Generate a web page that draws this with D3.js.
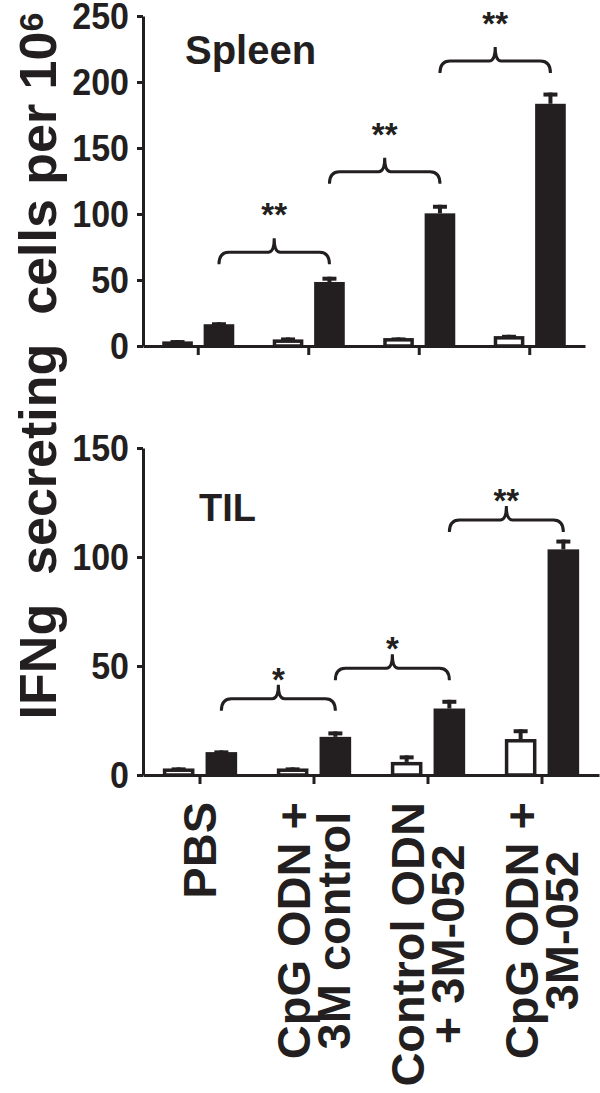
<!DOCTYPE html>
<html>
<head>
<meta charset="utf-8">
<style>
body { margin: 0; background: #fff; }
svg text { font-family: "Liberation Sans", Arial, Helvetica, sans-serif; font-weight: bold; fill: #231f20; }
</style>
</head>
<body>
<div id="chart"></div>
<script src="https://d3js.org/d3.v7.min.js"></script>
<script>
// categories and tick labels
var groups = ["PBS", "CpG ODN + 3M control", "Control ODN + 3M-052", "CpG ODN + 3M-052"];
var groupLines = [["PBS"], ["CpG ODN +", "3M control"], ["Control ODN", "+ 3M-052"], ["CpG ODN +", "3M-052"]];
var series = ["open", "filled"];

// Spleen panel
var spleenOpen = [3.5, 5, 6, 7.5];
var spleenOpenErr = [1, 1.5, 0.5, 1];
var spleenFilled = [16.5, 48.5, 100.5, 183.5];
var spleenFilledErr = [1.5, 4, 6.5, 8.5];
var spleenTicks = [0, 50, 100, 150, 200, 250];
var spleenSig = ["**", "**", "**"];
var spleenSigLevel = [71, 132, 216];

// TIL panel
var tilOpen = [3, 3, 6, 16.5];
var tilOpenErr = [0.5, 0.5, 3, 4.5];
var tilFilled = [10.5, 17.5, 30.5, 103.5];
var tilFilledErr = [0.8, 2.5, 4, 4.5];
var tilTicks = [0, 50, 100, 150];
var tilSig = ["*", "*", "**"];
var tilSigLevel = [35, 49, 117];

var ink = "#231f20";
var W = 600, H = 1093;

var svg = d3.select("#chart").append("svg")
    .attr("width", W)
    .attr("height", H);

svg.append("rect").attr("width", W).attr("height", H).attr("fill", "#fff");

var panels = [
  { name: "Spleen", open: spleenOpen, openErr: spleenOpenErr, filled: spleenFilled, filledErr: spleenFilledErr,
    ticks: spleenTicks, sig: spleenSig, sigLevel: spleenSigLevel,
    top: 16, bottom: 346, right: 585, titleX: 185, titleY: 64, titleSize: 40, starGap: 31 },
  { name: "TIL", open: tilOpen, openErr: tilOpenErr, filled: tilFilled, filledErr: tilFilledErr,
    ticks: tilTicks, sig: tilSig, sigLevel: tilSigLevel,
    top: 448, bottom: 775, right: 599, titleX: 199, titleY: 521, titleSize: 38, starGap: 13 }
];

var left = 143;

function bracePath(x0, x1, yh) {
  var xm = (x0 + x1) / 2, r = 10, rm = 6, drop = 12, tip = 14;
  return "M" + x0 + "," + (yh + drop) +
    " Q" + x0 + "," + yh + " " + (x0 + r) + "," + yh +
    " L" + (xm - rm) + "," + yh +
    " Q" + xm + "," + yh + " " + xm + "," + (yh - tip) +
    " Q" + xm + "," + yh + " " + (xm + rm) + "," + yh +
    " L" + (x1 - r) + "," + yh +
    " Q" + x1 + "," + yh + " " + x1 + "," + (yh + drop);
}

panels.forEach(function(p, pi) {
  var x0 = d3.scaleBand().domain(groups).range([left, p.right]).paddingInner(0).paddingOuter(0);
  var half = x0.step() * 0.326;
  var x1 = d3.scaleBand().domain(series).range([-half, half]).paddingInner(0.26).paddingOuter(0);
  var y = d3.scaleLinear().domain([0, d3.max(p.ticks)]).range([p.bottom, p.top]);

  var rows = [];
  groups.forEach(function(g, i) {
    rows.push({ g: g, s: "open", v: p.open[i], e: p.openErr[i] });
    rows.push({ g: g, s: "filled", v: p.filled[i], e: p.filledErr[i] });
  });

  function cx(d) { return x0(d.g) + x0.bandwidth() / 2 + x1(d.s) + x1.bandwidth() / 2; }

  var plot = svg.append("g");

  // error bars (upward only)
  var eb = plot.selectAll(".err").data(rows).enter().append("g");
  eb.append("line")
    .attr("x1", cx).attr("x2", cx)
    .attr("y1", function(d) { return y(d.v); })
    .attr("y2", function(d) { return y(d.v + d.e); })
    .attr("stroke", ink).attr("stroke-width", 4);
  eb.append("line")
    .attr("x1", function(d) { return cx(d) - 7; })
    .attr("x2", function(d) { return cx(d) + 7; })
    .attr("y1", function(d) { return y(d.v + d.e) + 2; })
    .attr("y2", function(d) { return y(d.v + d.e) + 2; })
    .attr("stroke", ink).attr("stroke-width", 4);

  // bars
  plot.selectAll(".bar").data(rows).enter().append("rect")
    .attr("x", function(d) { return x0(d.g) + x0.bandwidth() / 2 + x1(d.s) + 1.75; })
    .attr("width", x1.bandwidth() - 3.5)
    .attr("y", function(d) { return y(d.v) + 1.75; })
    .attr("height", function(d) { return Math.max(0, y(0) - y(d.v) - 1.75); })
    .attr("fill", function(d) { return d.s === "open" ? "#fff" : ink; })
    .attr("stroke", ink)
    .attr("stroke-width", 3.5);

  // axes
  var yAxis = svg.append("g")
    .attr("transform", "translate(" + left + ",0)")
    .call(d3.axisLeft(y).tickValues(p.ticks).tickSize(6).tickSizeOuter(0).tickPadding(8));
  yAxis.selectAll("text")
    .style("font-size", "34px")
    .attr("dy", "0.34em")
    .attr("transform", "scale(1,1.1)")
    .attr("fill", ink);

  svg.append("g")
    .attr("transform", "translate(0," + p.bottom + ")")
    .call(d3.axisBottom(x0).tickSize(9).tickSizeOuter(0).tickFormat(""));

  svg.selectAll(".domain, .tick line").attr("stroke", ink).attr("stroke-width", 3);

  // panel title
  svg.append("text")
    .attr("x", p.titleX).attr("y", p.titleY)
    .style("font-size", p.titleSize + "px")
    .text(p.name);

  // significance braces between consecutive filled bars
  p.sig.forEach(function(s, i) {
    var xa = cx({ g: groups[i], s: "filled" });
    var xb = cx({ g: groups[i + 1], s: "filled" });
    var yh = y(p.sigLevel[i]);
    svg.append("path")
      .attr("d", bracePath(xa, xb, yh))
      .attr("fill", "none").attr("stroke", ink).attr("stroke-width", 3);
    svg.append("text")
      .attr("x", (xa + xb) / 2)
      .attr("y", yh - 14 - p.starGap + 19)
      .attr("text-anchor", "middle")
      .style("font-size", "33px")
      .text(s);
  });

  // category labels under the TIL panel only
  if (pi === 1) {
    groups.forEach(function(g, i) {
      var lines = groupLines[i];
      var lab = svg.append("g")
        .attr("transform", "translate(" + (x0(g) + x0.bandwidth() / 2) + "," + (p.bottom + 27) + ") rotate(-90)");
      var texts = lab.selectAll("text").data(lines).enter().append("text")
        .attr("text-anchor", "middle")
        .style("font-size", "47px")
        .attr("y", function(d, k) { return 16 + (k - (lines.length - 1) / 2) * 40; })
        .text(function(d) { return d; });
      var L = 0;
      texts.each(function() { L = Math.max(L, this.getComputedTextLength()); });
      texts.attr("x", -L / 2);
    });
  }
});

// shared y-axis title
var yt = svg.append("text")
  .attr("transform", "translate(56,366) rotate(-90)")
  .attr("text-anchor", "middle")
  .style("font-size", "52px")
  .style("white-space", "pre");
yt.append("tspan").text("IFNg  secreting  cells per 10");
yt.append("tspan").attr("dy", "-0.38em").style("font-size", "34px").text("6");
</script>
</body>
</html>
